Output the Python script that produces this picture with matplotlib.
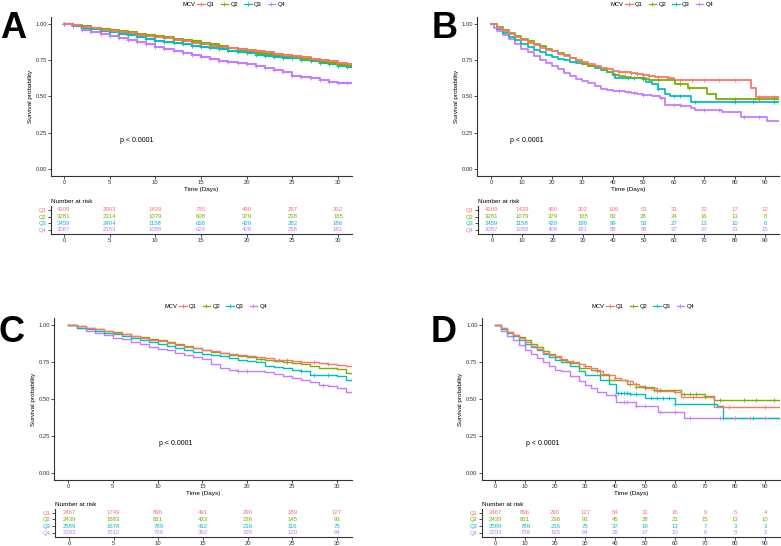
import matplotlib
matplotlib.use('Agg')
import matplotlib.pyplot as plt
import numpy as np
from matplotlib.lines import Line2D

plt.rcParams['font.family'] = ['Liberation Sans', 'DejaVu Sans']

W, H = 781, 546
groups = ['Q1', 'Q2', 'Q3', 'Q4']
colors = ['#F8766D', '#7CAE00', '#00BFC4', '#C77CFF']

# ---------------- panel A (30 days, cohort 1) ----------------
a_days = list(range(32))
a_q1 = [1.0, 0.992, 0.983, 0.973, 0.963, 0.955, 0.946, 0.937, 0.928, 0.920, 0.912, 0.902, 0.892, 0.882, 0.872, 0.862,
        0.852, 0.843, 0.835, 0.827, 0.820, 0.813, 0.805, 0.796, 0.787, 0.778, 0.770, 0.762, 0.754, 0.745, 0.735, 0.728]
a_q2 = [1.0, 0.993, 0.985, 0.977, 0.968, 0.960, 0.951, 0.943, 0.934, 0.925, 0.917, 0.909, 0.901, 0.893, 0.885, 0.872,
        0.860, 0.848, 0.836, 0.824, 0.812, 0.804, 0.796, 0.787, 0.779, 0.770, 0.760, 0.750, 0.740, 0.730, 0.718, 0.710]
a_q3 = [1.0, 0.988, 0.977, 0.965, 0.954, 0.944, 0.934, 0.924, 0.912, 0.899, 0.887, 0.878, 0.869, 0.860, 0.851, 0.843,
        0.834, 0.826, 0.818, 0.808, 0.799, 0.790, 0.782, 0.775, 0.769, 0.763, 0.755, 0.746, 0.735, 0.723, 0.712, 0.703]
a_q4 = [1.0, 0.985, 0.963, 0.948, 0.932, 0.918, 0.906, 0.893, 0.879, 0.865, 0.843, 0.829, 0.815, 0.801, 0.789, 0.773,
        0.757, 0.747, 0.738, 0.730, 0.722, 0.710, 0.699, 0.685, 0.670, 0.643, 0.637, 0.630, 0.617, 0.603, 0.594, 0.590]
a_ticks = [0, 5, 10, 15, 20, 25, 30]
a_risk_q1 = [4109, 2903, 1429, 795, 490, 297, 202]
a_risk_q2 = [3281, 2314, 1079, 608, 379, 238, 165]
a_risk_q3 = [3459, 2404, 1158, 658, 420, 282, 186]
a_risk_q4 = [3087, 2153, 1088, 624, 408, 258, 181]

# ---------------- panel B (90 days, cohort 1) ----------------
b_t_q1 = [0, 2, 4, 6, 8, 10, 12, 14, 16, 18, 20, 22, 24, 26, 28, 30, 32, 34, 36, 38, 40, 42, 44, 46, 48, 50,
          52, 54, 56, 58, 60, 85.5, 87]
b_s_q1 = [1.0, 0.975, 0.952, 0.930, 0.910, 0.890, 0.870, 0.853, 0.838, 0.825, 0.812, 0.796, 0.782, 0.765, 0.752,
          0.742, 0.728, 0.712, 0.698, 0.688, 0.678, 0.672, 0.668, 0.664, 0.655, 0.648, 0.642, 0.637, 0.632, 0.625,
          0.615, 0.560, 0.495]
b_t_q2 = [0, 2, 4, 6, 8, 10, 12, 14, 16, 18, 20, 22, 24, 26, 28, 30, 32, 34, 36, 38, 40, 42, 44, 46, 48, 50,
          52, 60.5, 64.8, 70.8, 74]
b_s_q2 = [1.0, 0.978, 0.957, 0.937, 0.918, 0.900, 0.882, 0.866, 0.850, 0.832, 0.815, 0.800, 0.785, 0.768, 0.745,
          0.725, 0.712, 0.702, 0.690, 0.670, 0.652, 0.645, 0.636, 0.630, 0.625, 0.620, 0.615, 0.585, 0.556, 0.520,
          0.482]
b_t_q3 = [0, 2, 4, 6, 8, 10, 12, 14, 16, 18, 20, 22, 24, 26, 28, 30, 32, 34, 36, 38, 40, 40.6, 46, 51, 53, 55,
          57, 58.7, 65.8]
b_s_q3 = [1.0, 0.965, 0.942, 0.915, 0.888, 0.862, 0.840, 0.822, 0.805, 0.788, 0.772, 0.760, 0.750, 0.742, 0.735,
          0.722, 0.710, 0.698, 0.685, 0.672, 0.658, 0.630, 0.625, 0.598, 0.585, 0.552, 0.518, 0.500, 0.463]
b_t_q4 = [0, 1, 2, 4, 6, 8, 10, 12, 14, 16, 18, 20, 22, 24, 26, 28, 30, 32, 34, 36, 38, 40, 42, 44, 46, 48, 50,
          53, 55.5, 57, 62.5, 65.8, 67, 76, 82, 90.5]
b_s_q4 = [1.0, 0.975, 0.955, 0.925, 0.895, 0.865, 0.832, 0.805, 0.777, 0.752, 0.730, 0.710, 0.688, 0.662, 0.640,
          0.622, 0.605, 0.592, 0.575, 0.555, 0.545, 0.540, 0.536, 0.530, 0.525, 0.518, 0.512, 0.503, 0.490, 0.442,
          0.435, 0.422, 0.410, 0.390, 0.355, 0.330]
b_cens_q1 = [42, 44, 46, 48, 50, 52, 55, 58, 62, 66, 70, 75, 80, 88, 90, 93]
b_cens_q2 = [50, 55, 60, 62, 65, 80, 88, 93]
b_cens_q3 = [40, 45, 47, 50, 55, 60, 62, 67, 80, 86, 93]
b_cens_q4 = [42, 45, 47, 50, 56, 60, 62, 70, 75, 83, 88]
b_ticks = [0, 10, 20, 30, 40, 50, 60, 70, 80, 90]
b_risk_q1 = [4109, 1429, 490, 202, 109, 53, 33, 22, 17, 12]
b_risk_q2 = [3281, 1079, 379, 165, 82, 38, 24, 16, 13, 8]
b_risk_q3 = [3459, 1158, 420, 186, 99, 53, 27, 13, 10, 6]
b_risk_q4 = [3087, 1088, 408, 181, 88, 58, 37, 27, 21, 15]

# ---------------- panel C (30 days, cohort 2) ----------------
c_days = list(range(32))
c_q1 = [1.0, 0.995, 0.985, 0.975, 0.962, 0.950, 0.938, 0.925, 0.912, 0.902, 0.892, 0.880, 0.868, 0.856, 0.845, 0.835,
        0.825, 0.815, 0.806, 0.798, 0.792, 0.785, 0.776, 0.768, 0.762, 0.755, 0.750, 0.748, 0.742, 0.735, 0.728, 0.722]
c_q2 = [1.0, 0.993, 0.983, 0.972, 0.962, 0.952, 0.940, 0.930, 0.920, 0.910, 0.898, 0.885, 0.872, 0.858, 0.845, 0.832,
        0.820, 0.810, 0.800, 0.790, 0.782, 0.772, 0.762, 0.755, 0.748, 0.742, 0.735, 0.722, 0.712, 0.710, 0.705, 0.678]
c_q3 = [1.0, 0.985, 0.975, 0.962, 0.950, 0.938, 0.925, 0.912, 0.900, 0.885, 0.872, 0.862, 0.848, 0.835, 0.822, 0.808,
        0.800, 0.790, 0.778, 0.765, 0.758, 0.752, 0.725, 0.718, 0.710, 0.700, 0.690, 0.665, 0.665, 0.662, 0.655, 0.628]
c_q4 = [1.0, 0.985, 0.962, 0.950, 0.935, 0.915, 0.905, 0.890, 0.875, 0.855, 0.838, 0.830, 0.815, 0.800, 0.785, 0.770,
        0.740, 0.712, 0.695, 0.693, 0.692, 0.688, 0.680, 0.668, 0.655, 0.645, 0.630, 0.618, 0.595, 0.588, 0.575, 0.548]
c_cens_q1 = [23.5, 24.5, 26, 27.5, 29]
c_cens_q2 = [21.5, 24.5]
c_cens_q3 = [26, 27.5, 29]
c_cens_q4 = [19, 20, 28.5]
c_ticks = [0, 5, 10, 15, 20, 25, 30]
c_risk_q1 = [2467, 1749, 896, 491, 290, 189, 127]
c_risk_q2 = [2439, 1683, 831, 433, 236, 145, 93]
c_risk_q3 = [2589, 1678, 789, 412, 216, 116, 75]
c_risk_q4 = [2293, 1512, 738, 392, 195, 120, 64]

# ---------------- panel D (90 days, cohort 2) ----------------
d_t_q1 = [0, 2, 4, 6, 8, 10, 12, 14, 16, 18, 20, 22, 24, 26, 28, 30, 32, 34, 36, 38, 40, 42, 44, 46, 48, 50,
          54, 60, 62, 73]
d_s_q1 = [1.0, 0.980, 0.958, 0.935, 0.912, 0.890, 0.862, 0.838, 0.815, 0.800, 0.790, 0.772, 0.758, 0.750, 0.735,
          0.722, 0.712, 0.690, 0.672, 0.660, 0.645, 0.630, 0.620, 0.600, 0.585, 0.578, 0.553, 0.546, 0.512, 0.448]
d_t_q2 = [0, 2, 4, 6, 8, 10, 12, 14, 16, 18, 20, 22, 24, 25, 28, 32, 35, 38, 44, 47, 53, 62, 70, 73]
d_s_q2 = [1.0, 0.980, 0.958, 0.937, 0.918, 0.900, 0.875, 0.850, 0.825, 0.803, 0.786, 0.768, 0.752, 0.745, 0.712,
          0.695, 0.666, 0.632, 0.600, 0.582, 0.558, 0.537, 0.520, 0.496]
d_t_q3 = [0, 2, 4, 6, 8, 10, 12, 14, 16, 18, 20, 22, 25, 28, 30, 35, 38, 40.5, 45, 50, 60, 74, 76]
d_s_q3 = [1.0, 0.975, 0.950, 0.925, 0.900, 0.876, 0.852, 0.830, 0.805, 0.787, 0.767, 0.752, 0.722, 0.688, 0.666,
          0.632, 0.600, 0.542, 0.535, 0.510, 0.463, 0.450, 0.370]
d_t_q4 = [0, 2, 4, 6, 8, 10, 12, 14, 16, 18, 20, 22, 25, 28, 30, 32, 34, 37, 40.5, 47, 54.5, 63]
d_s_q4 = [1.0, 0.962, 0.930, 0.900, 0.868, 0.835, 0.808, 0.780, 0.752, 0.725, 0.700, 0.690, 0.654, 0.625, 0.598,
          0.575, 0.546, 0.530, 0.479, 0.450, 0.410, 0.372]
d_cens_q1 = [22, 24, 26, 30, 32, 34, 36, 40, 44, 47, 50, 52, 54, 60, 66, 70, 76, 78, 90]
d_cens_q2 = [45, 47, 50, 53, 55, 63, 65, 67, 70, 75, 83, 87, 93]
d_cens_q3 = [41, 42, 43, 44, 45, 47, 52, 54, 56, 58, 60, 73, 76, 86]
d_cens_q4 = [40, 43, 44, 47, 50, 55, 60, 65, 75, 80, 85, 90]
d_ticks = [0, 10, 20, 30, 40, 50, 60, 70, 80, 90]
d_risk_q1 = [2467, 896, 290, 127, 54, 31, 16, 9, 5, 4]
d_risk_q2 = [2439, 831, 236, 93, 45, 28, 21, 15, 13, 10]
d_risk_q3 = [2589, 789, 216, 75, 37, 19, 13, 7, 3, 3]
d_risk_q4 = [2293, 738, 195, 64, 29, 17, 10, 6, 5, 2]


def px_rect(l, t, r, b):
    # pixel box (from top-left) -> figure fraction
    return [l / W, 1 - b / H, (r - l) / W, (b - t) / H]


def style_axis(ax):
    for sp in ['top', 'right']:
        ax.spines[sp].set_visible(False)
    for sp in ['left', 'bottom']:
        ax.spines[sp].set_linewidth(0.8)
        ax.spines[sp].set_color('#333333')
    ax.tick_params(length=2, width=0.6, labelsize=4.2, pad=1, colors='#333333')


def km_panel(fig, main_px, table_px, xlim, ticks, times, survs, censors, risk,
             letter, letter_xy, legend_xy, p_xy, lw=1.0):
    ax = fig.add_axes(px_rect(*main_px))
    for i in range(4):
        t = list(times[i]) + [xlim[1]]
        s = list(survs[i]) + [survs[i][-1]]
        ax.step(t, s, where='post', color=colors[i], lw=lw, zorder=3 + (3 - i) * 0.1)
        ct = np.array(censors[i])
        idx = np.searchsorted(times[i], ct, side='right') - 1
        ax.plot(ct, np.array(survs[i])[idx], '+', color=colors[i], ms=2.6, mew=0.6, zorder=4)
    ax.set_xlim(xlim)
    ax.set_ylim(-0.05, 1.05)
    ax.set_xticks(ticks)
    ax.set_yticks([0, 0.25, 0.5, 0.75, 1.0])
    ax.set_yticklabels(['0.00', '0.25', '0.50', '0.75', '1.00'])
    style_axis(ax)
    ax.set_xlabel('Time (Days)', fontsize=4.6, labelpad=1.5)
    ax.set_ylabel('Survival probability', fontsize=4.6, labelpad=2)
    ax.text(p_xy[0], p_xy[1], 'p < 0.0001', fontsize=5, ha='left', va='center')

    # legend strip above the plot
    fig.text((legend_xy[0] - 2) / W, 1 - legend_xy[1] / H, 'MCV', fontsize=4.2, ha='right', va='center')
    handles = [Line2D([], [], color=c, lw=0.9, marker='+', ms=2.6, mew=0.6) for c in colors]
    fig.legend(handles, groups, loc='center left', bbox_to_anchor=(legend_xy[0] / W, 1 - legend_xy[1] / H),
               ncol=4, frameon=False, fontsize=4.2, handlelength=1.3, handletextpad=0.4,
               columnspacing=1.0, borderpad=0, borderaxespad=0)

    fig.text(letter_xy[0] / W, 1 - letter_xy[1] / H, letter, fontsize=26, fontweight='bold',
             ha='center', va='center')

    # risk table
    tb = fig.add_axes(px_rect(*table_px))
    tb.set_xlim(xlim)
    tb.set_ylim(0.4, 4.6)
    for i in range(4):
        for t, n in zip(ticks, risk[i]):
            tb.text(t, 4 - i, str(n), ha='center', va='center', fontsize=4.3, color=colors[i])
    tb.set_xticks(ticks)
    tb.set_yticks([4, 3, 2, 1])
    tb.set_yticklabels(groups)
    style_axis(tb)
    for lab, c in zip(tb.get_yticklabels(), colors):
        lab.set_color(c)
    tb.set_title('Number at risk', loc='left', fontsize=4.6, pad=2)
    return ax


fig = plt.figure(figsize=(W / 100, H / 100), dpi=100)

km_panel(fig, (51, 17, 352, 176), (51, 206, 352, 233.7), (-1.42, 31.53), a_ticks,
         [a_days] * 4, [a_q1, a_q2, a_q3, a_q4], [a_days] * 4,
         [a_risk_q1, a_risk_q2, a_risk_q3, a_risk_q4],
         'A', (13, 28.5), (197, 4.5), (6.1, 0.195), lw=1.5)

km_panel(fig, (477, 17, 779, 176), (478, 206, 779, 233.7), (-4.6, 94.6), b_ticks,
         [b_t_q1, b_t_q2, b_t_q3, b_t_q4], [b_s_q1, b_s_q2, b_s_q3, b_s_q4],
         [b_cens_q1, b_cens_q2, b_cens_q3, b_cens_q4],
         [b_risk_q1, b_risk_q2, b_risk_q3, b_risk_q4],
         'B', (445, 28.5), (625, 4.5), (6.2, 0.195), lw=1.3)

km_panel(fig, (54, 318, 351.7, 480), (55, 508.7, 351.7, 536.7), (-1.56, 31.67), c_ticks,
         [c_days] * 4, [c_q1, c_q2, c_q3, c_q4],
         [c_cens_q1, c_cens_q2, c_cens_q3, c_cens_q4],
         [c_risk_q1, c_risk_q2, c_risk_q3, c_risk_q4],
         'C', (12, 332), (179, 306.7), (10.2, 0.2))

km_panel(fig, (481.7, 318, 780, 480), (482, 508.7, 780, 536.7), (-4.43, 95.0), d_ticks,
         [d_t_q1, d_t_q2, d_t_q3, d_t_q4], [d_s_q1, d_s_q2, d_s_q3, d_s_q4],
         [d_cens_q1, d_cens_q2, d_cens_q3, d_cens_q4],
         [d_risk_q1, d_risk_q2, d_risk_q3, d_risk_q4],
         'D', (444, 332), (606, 306.7), (10.3, 0.2))

fig.savefig('out.png', dpi=100)
